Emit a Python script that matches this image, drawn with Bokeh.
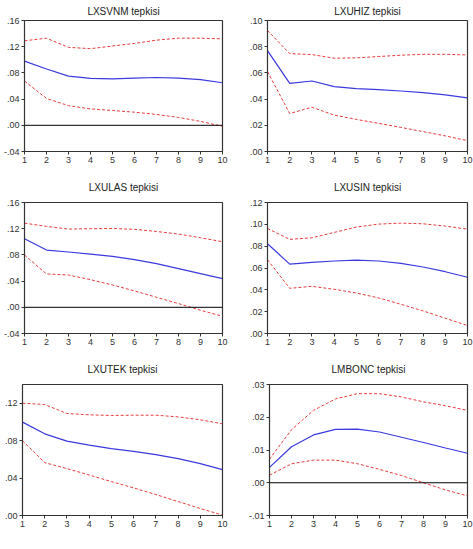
from bokeh.plotting import figure
from bokeh.layouts import column, row
from bokeh.models import Range1d, FixedTicker, Span
from bokeh.embed import file_html
from bokeh.resources import INLINE

steps = [1, 2, 3, 4, 5, 6, 7, 8, 9, 10]

titles = ["LXSVNM tepkisi", "LXUHIZ tepkisi", "LXULAS tepkisi",
          "LXUSIN tepkisi", "LXUTEK tepkisi", "LMBONC tepkisi"]

lxsvnm_mid = [0.098, 0.086, 0.075, 0.0716, 0.071, 0.072, 0.073, 0.072, 0.0696, 0.065]
lxsvnm_up = [0.129, 0.133, 0.119, 0.117, 0.121, 0.125, 0.130, 0.133, 0.133, 0.132]
lxsvnm_lo = [0.0676, 0.041, 0.030, 0.025, 0.0226, 0.020, 0.0166, 0.012, 0.006, -0.0016]

lxuhiz_mid = [0.077, 0.052, 0.0538, 0.0495, 0.048, 0.0472, 0.0462, 0.045, 0.0432, 0.041]
lxuhiz_up = [0.0924, 0.0747, 0.074, 0.0712, 0.0715, 0.0725, 0.0735, 0.0742, 0.0742, 0.0737]
lxuhiz_lo = [0.061, 0.029, 0.0338, 0.0278, 0.0245, 0.0215, 0.0184, 0.0152, 0.0119, 0.0083]

lxulas_mid = [0.1047, 0.0874, 0.0844, 0.0813, 0.0778, 0.0727, 0.0666, 0.059, 0.0514, 0.0438]
lxulas_up = [0.1285, 0.1235, 0.1194, 0.120, 0.1204, 0.119, 0.1158, 0.1118, 0.1062, 0.1001]
lxulas_lo = [0.0798, 0.0509, 0.0493, 0.0422, 0.0341, 0.025, 0.0153, 0.0057, -0.0045, -0.0136]

lxusin_mid = [0.0822, 0.0636, 0.0652, 0.0664, 0.0673, 0.0664, 0.0643, 0.0609, 0.0566, 0.0515]
lxusin_up = [0.0962, 0.0862, 0.0877, 0.0926, 0.0975, 0.1002, 0.1011, 0.1005, 0.0984, 0.0956]
lxusin_lo = [0.0676, 0.0414, 0.0432, 0.0405, 0.0371, 0.0326, 0.0268, 0.0207, 0.014, 0.0073]

lxutek_mid = [0.0998, 0.0873, 0.0795, 0.0753, 0.0714, 0.0685, 0.065, 0.0607, 0.0554, 0.049]
lxutek_up = [0.120, 0.1186, 0.109, 0.1076, 0.1069, 0.1072, 0.1072, 0.1054, 0.1023, 0.098]
lxutek_lo = [0.0799, 0.0565, 0.0501, 0.0433, 0.0362, 0.0295, 0.0224, 0.0149, 0.0075, 0.0004]

lmbonc_mid = [0.0047, 0.011, 0.0146, 0.0163, 0.0164, 0.0155, 0.0139, 0.0123, 0.0106, 0.009]
lmbonc_up = [0.0072, 0.0162, 0.0221, 0.0256, 0.0272, 0.0272, 0.0262, 0.0247, 0.0235, 0.0221]
lmbonc_lo = [0.0023, 0.0058, 0.0069, 0.0069, 0.0058, 0.0041, 0.0022, 0.0, -0.0022, -0.004]

ticks_a = [-0.04, 0.0, 0.04, 0.08, 0.12, 0.16]
labels_a = ["-.04", ".00", ".04", ".08", ".12", ".16"]
ticks_b = [0.0, 0.02, 0.04, 0.06, 0.08, 0.10]
labels_b = [".00", ".02", ".04", ".06", ".08", ".10"]
ticks_c = [0.0, 0.02, 0.04, 0.06, 0.08, 0.10, 0.12]
labels_c = [".00", ".02", ".04", ".06", ".08", ".10", ".12"]
ticks_d = [0.0, 0.04, 0.08, 0.12]
labels_d = [".00", ".04", ".08", ".12"]
ticks_e = [-0.01, 0.0, 0.01, 0.02, 0.03]
labels_e = ["-.01", ".00", ".01", ".02", ".03"]

panels = [
    (titles[0], lxsvnm_mid, lxsvnm_up, lxsvnm_lo, (-0.04, 0.16), ticks_a, labels_a, True),
    (titles[1], lxuhiz_mid, lxuhiz_up, lxuhiz_lo, (0.0, 0.10), ticks_b, labels_b, False),
    (titles[2], lxulas_mid, lxulas_up, lxulas_lo, (-0.04, 0.16), ticks_a, labels_a, True),
    (titles[3], lxusin_mid, lxusin_up, lxusin_lo, (0.0, 0.12), ticks_c, labels_c, False),
    (titles[4], lxutek_mid, lxutek_up, lxutek_lo, (0.0, 0.14), ticks_d, labels_d, False),
    (titles[5], lmbonc_mid, lmbonc_up, lmbonc_lo, (-0.01, 0.03), ticks_e, labels_e, True),
]

FONT = "Liberation Sans"
FRAME_W, FRAME_H = 200, 132
TOPS = [19, 31, 31]
BOTTOMS = [19, 19, 26]
STANDOFFS = [7, 19, 19]


def make(i, spec):
    title, mid, up, lo, yr, yt, yl, zero = spec
    col = i % 2
    rw = i // 2
    left = 22
    right = 23 if col == 0 else 6
    top = TOPS[rw]
    bottom = BOTTOMS[rw]
    p = figure(width=left + FRAME_W + right, height=top + FRAME_H + bottom,
               output_backend="svg", toolbar_location=None, title=title,
               x_range=Range1d(1, 10), y_range=Range1d(*yr),
               min_border_left=left, min_border_right=right,
               min_border_top=top, min_border_bottom=bottom)
    p.title.align = "center"
    p.title.text_font = FONT
    p.title.text_font_size = "10px"
    p.title.text_font_style = "normal"
    p.title.text_color = "#222222"
    p.title.standoff = STANDOFFS[rw]
    p.xgrid.visible = False
    p.ygrid.visible = False
    p.outline_line_color = "#333333"
    p.outline_line_width = 1.2
    p.background_fill_color = "white"
    p.border_fill_color = "white"

    for ax in (p.xaxis[0], p.yaxis[0]):
        ax.axis_line_color = "#333333"
        ax.major_tick_line_color = "#333333"
        ax.major_tick_in = 0
        ax.major_tick_out = 3
        ax.minor_tick_line_color = None
        ax.major_label_text_font = FONT
        ax.major_label_text_font_size = "9px"
        ax.major_label_text_color = "#333333"
        ax.major_label_standoff = 2
    p.xaxis.ticker = FixedTicker(ticks=steps)
    p.yaxis.ticker = FixedTicker(ticks=yt)
    p.yaxis.major_label_overrides = {t: l for t, l in zip(yt, yl)}

    if zero:
        p.add_layout(Span(location=0, dimension="width", line_color="black", line_width=1))

    p.line(steps, up, line_color="#e83c3c", line_width=1, line_dash="3 2")
    p.line(steps, lo, line_color="#e83c3c", line_width=1, line_dash="3 2")
    p.line(steps, mid, line_color="#3a3ade", line_width=1.2)
    return p


figs = [make(i, s) for i, s in enumerate(panels)]
layout = column(row(figs[0], figs[1]), row(figs[2], figs[3]), row(figs[4], figs[5]))

open("out.html", "w").write(file_html(layout, INLINE))
